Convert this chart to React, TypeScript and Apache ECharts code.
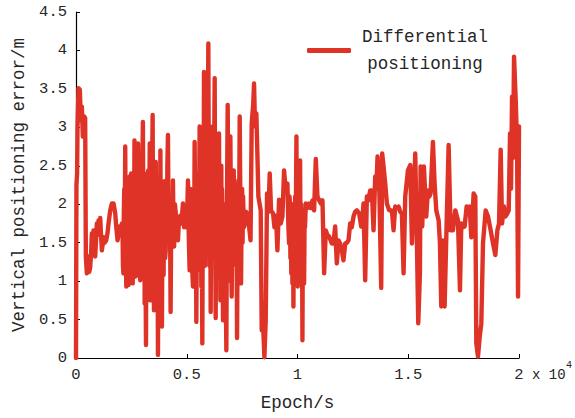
import { useEffect, useRef } from "react";
import * as echarts from "echarts";

const seriesName = "Differential positioning";
const xAxisTitle = "Epoch/s";
const yAxisTitle = "Vertical positioning error/m";
const xScaleNote = "x 10";
const xScaleExp = "4";

const epochs: number[] = [
  0, 20, 50, 68, 113, 173, 218, 264, 309, 369, 414, 445, 490, 530, 565, 600, 640, 680, 716, 760, 791, 830, 867, 942, 980, 1017, 1060, 1093, 1130, 1168, 1243, 1300, 1364, 1420, 1469, 1545, 1620, 1695, 1771, 1816, 1876, 1920, 1966, 2030, 2072,
  2100, 2120, 2140, 2160, 2180, 2200, 2222, 2245, 2270, 2290, 2310, 2330, 2350, 2373, 2395, 2420, 2435, 2450, 2470, 2490, 2510, 2530, 2545, 2560, 2580, 2600, 2620, 2640, 2660, 2680, 2700, 2720, 2740, 2760, 2780, 2800, 2820, 2840, 2860, 2880, 2900, 2925, 2950, 2970, 2995, 3020, 3045, 3070, 3085, 3100, 3120, 3140, 3160, 3180, 3200, 3220, 3240, 3260, 3280, 3300, 3315, 3330, 3352, 3375, 3400, 3420, 3440, 3460, 3480, 3500, 3520, 3540, 3560, 3580, 3600, 3625, 3650, 3675, 3700, 3720, 3740, 3760, 3785, 3810, 3830, 3855, 3880, 3900, 3920, 3940,
  3955, 3975, 4000, 4025, 4050, 4075, 4100, 4125, 4151, 4180, 4210, 4240, 4271, 4295, 4320, 4350, 4377, 4400, 4430, 4465, 4500, 4550, 4603, 4650, 4700, 4760, 4829, 4880, 4930, 4990, 5030, 5055, 5090, 5130, 5165, 5200, 5240, 5281, 5310, 5335, 5356, 5380, 5400, 5415, 5432, 5455, 5480, 5495, 5507, 5530, 5555, 5582, 5605, 5630, 5645, 5658, 5680, 5703, 5720, 5740, 5760, 5778, 5800, 5820, 5837, 5854, 5880, 5910, 5940, 5974, 5990, 6010, 6022, 6035, 6055, 6080, 6100, 6120, 6138, 6155, 6178, 6200, 6230, 6261, 6285, 6306, 6325, 6340, 6360, 6381, 6400, 6420, 6440, 6456, 6480, 6500, 6517, 6540, 6560, 6575, 6592, 6615, 6637, 6660, 6680, 6700, 6713, 6750, 6788, 6815, 6848, 6875, 6909, 6925, 6940, 6955, 6969, 6995, 7029, 7055, 7080, 7100, 7120, 7150, 7180, 7205, 7230, 7250, 7270, 7300, 7331, 7360, 7391, 7420, 7451, 7475, 7500, 7520, 7542, 7580, 7632, 7680, 7722, 7770, 7813,
  7880, 7932, 8000, 8038, 8083, 8143, 8188, 8234, 8339, 8384, 8445, 8505, 8565, 8625, 8690, 8746, 8806, 8897, 8960, 9030, 9093, 9168, 9243, 9319, 9394, 9460, 9545, 9590,
  9620, 9640, 9660, 9680, 9696, 9720, 9740, 9755, 9771, 9785, 9800, 9816, 9835, 9850, 9865, 9876, 9895, 9910, 9930, 9952, 9965, 9980, 9995, 10012, 10025, 10040, 10055, 10072, 10095, 10117, 10135, 10150, 10165, 10178, 10200, 10223, 10240, 10260, 10280, 10298, 10320, 10340, 10374,
  10450, 10524, 10600, 10675, 10750, 10826, 10901, 10980, 11052, 11127, 11202, 11278, 11350, 11428, 11549,
  11624, 11700, 11775, 11850, 11926, 12001, 12076, 12152, 12230, 12302, 12378, 12450, 12529, 12600, 12679, 12785, 12875, 12940, 12981, 13056, 13131, 13200, 13282, 13357, 13433, 13508, 13560, 13613, 13689, 13779, 13824, 13885, 13960, 14035, 14141, 14261, 14337, 14412, 14490, 14563, 14640, 14713, 14789, 14864, 14985, 15090, 15166, 15241, 15316, 15392, 15452, 15527,
  15557, 15632, 15707, 15813, 15888, 15950, 16009, 16114, 16190, 16265, 16371, 16430, 16491, 16566, 16642, 16732, 16823, 16913, 17018, 17124, 17244, 17335, 17395, 17470, 17546, 17636, 17700, 17772, 17847, 17952, 18028, 18073, 18148, 18224, 18299, 18374, 18495, 18601, 18721, 18827, 18932, 19023, 19098, 19173, 19234, 19324, 19384, 19474, 19535, 19595, 19640, 19686, 19730, 19776, 19851, 19912, 19957, 20000,
];

const errors: number[] = [
  0.0, 2.25, 2.4, 3.0, 3.51, 3.49, 3.09, 3.27, 2.88, 3.14, 3.12, 1.32, 1.1, 1.25, 1.32, 1.12, 1.18, 1.35, 1.62, 1.45, 1.66, 1.5, 1.32, 1.75, 1.6, 1.79, 1.65, 1.82, 1.6, 1.4, 1.57, 1.5, 1.53, 1.62, 1.75, 1.92, 2.01, 2.01, 1.88, 1.71, 1.53, 1.6, 1.71, 1.68, 1.75,
  1.7, 1.2, 1.1, 1.9, 2.2, 1.4, 2.75, 1.6, 0.93, 1.8, 2.3, 1.0, 1.9, 0.95, 2.1, 2.36, 1.2, 1.5, 2.2, 2.4, 1.1, 1.6, 2.1, 0.97, 1.7, 2.0, 1.3, 2.83, 1.8, 1.4, 1.06, 2.3, 1.5, 2.0, 1.2, 2.79, 2.0, 1.1, 1.49, 2.3, 1.01, 1.8, 2.2, 1.3, 2.5, 3.07, 1.6, 1.3, 2.4, 0.71, 1.9, 1.1, 0.17, 2.0, 1.4, 2.2, 1.0, 2.44, 1.6, 1.2, 2.2, 2.79, 0.75, 1.8, 2.3, 1.3, 2.6, 3.16, 1.5, 2.0, 0.62, 2.2, 1.8, 1.1, 2.55, 1.7, 1.2, 2.3, 0.04, 1.5, 2.3, 1.8, 1.0, 2.7, 1.6, 2.2, 0.41, 1.7, 2.1, 1.3,
  1.08, 2.0, 2.3, 1.3, 1.4, 2.2, 1.6, 2.5, 2.9, 1.7, 1.5, 2.1, 0.6, 1.6, 2.0, 1.5, 2.31, 1.7, 1.45, 2.0, 1.9, 1.6, 1.53, 1.8, 1.85, 1.75, 2.01, 1.7, 1.8, 1.7, 2.0, 2.31, 1.6, 1.14, 2.2, 1.9, 1.2, 0.93, 2.0, 1.5, 2.81, 1.8, 1.3, 2.0, 0.47, 1.6, 2.3, 1.4, 1.14, 2.4, 1.8, 3.01, 2.0, 1.6, 2.6, 0.93, 1.8, 0.19, 1.6, 2.5, 1.4, 3.72, 2.2, 1.2, 2.6, 1.49, 2.4, 3.3, 2.0, 4.09, 2.8, 2.4, 1.2, 1.75, 2.5, 0.6, 1.8, 2.2, 1.3, 3.01, 2.0, 1.3, 2.4, 3.64, 1.6, 0.52, 1.9, 2.6, 1.2, 2.1, 1.7, 1.1, 2.2, 2.92, 1.4, 2.1, 0.75, 1.9, 2.5, 1.3, 2.2, 1.7, 0.49, 1.8, 2.0, 1.1, 1.75, 1.3, 0.1, 2.0, 3.29, 2.1, 1.9, 2.4, 1.0, 2.0, 2.88, 1.8, 0.8, 1.7, 2.2, 1.3, 2.44, 1.8, 1.49, 2.1, 1.2, 1.9, 0.26, 1.7, 2.31, 1.6, 3.14, 2.0, 0.97, 1.8, 2.2, 1.5, 2.1, 1.7, 1.79, 1.9, 1.88, 1.75, 1.71,
  1.53, 3.05, 3.3, 3.57, 3.01, 3.18, 2.66, 2.1, 1.92, 0.36, 0.45, 0.01, 0.49, 2.14, 1.9, 2.4, 1.92, 1.88, 1.7, 1.85, 1.4, 2.06, 1.75, 1.84, 2.44, 2.2, 2.27, 1.7,
  1.49, 2.1, 2.0, 1.3, 1.84, 1.1, 1.3, 2.0, 0.97, 1.8, 1.9, 0.67, 1.9, 1.6, 1.1, 1.75, 2.1, 1.2, 2.0, 2.88, 1.8, 1.5, 1.1, 0.93, 2.1, 2.0, 1.3, 1.84, 1.1, 2.57, 1.6, 1.5, 2.0, 1.27, 1.9, 0.23, 1.5, 1.4, 1.9, 0.97, 1.8, 1.7, 2.01,
  1.95, 2.01, 1.95, 2.05, 1.92, 2.59, 2.1, 2.05, 2.01, 2.05, 1.1, 1.66, 1.6, 1.58, 1.49,
  1.49, 1.71, 1.23, 1.53, 1.49, 1.4, 1.27, 1.49, 1.5, 1.53, 1.75, 1.7, 1.84, 1.9, 1.92, 1.88, 1.71, 1.85, 2.01, 1.01, 2.1, 2.05, 2.18, 2.18, 1.66, 2.36, 2.2, 2.62, 2.27, 0.91, 2.66, 2.49, 2.27, 2.01, 1.92, 1.92, 1.66, 1.97, 1.95, 1.97, 1.9, 1.88, 1.1, 2.1, 2.44, 2.51, 1.49, 2.05, 2.66, 1.49, 0.45, 1.1,
  2.49, 1.71, 2.49, 1.84, 2.18, 2.1, 2.14, 2.81, 2.27, 1.92, 1.79, 1.5, 0.67, 1.53, 0.67, 1.75, 2.77, 1.66, 1.66, 1.92, 1.79, 0.88, 1.75, 1.7, 1.71, 1.97, 1.9, 1.97, 1.57, 2.14, 2.1, 0.19, 0.02, 0.27, 0.45, 1.49, 1.92, 1.84, 1.66, 1.49, 1.34, 1.66, 1.75, 2.71, 1.75, 1.97, 1.84, 1.88, 1.92, 2.92, 2.2, 3.4, 2.6, 3.92, 3.36, 2.79, 0.8, 3.01,
];

const FONT = "'Liberation Mono', 'DejaVu Sans Mono', monospace";
const TEXT = "#262626";
const RED = "#e03327";

export default function App() {
  const ref = useRef<HTMLDivElement>(null);
  useEffect(() => {
    if (!ref.current) return;
    const chart = echarts.init(ref.current, undefined, { renderer: "svg" });
    const data = epochs.map((e, i) => [e, errors[i]]);
    chart.setOption({
      animation: false,
      backgroundColor: "#ffffff",
      grid: { left: 76, right: 56, top: 12, bottom: 60, containLabel: false },
      xAxis: {
        type: "value",
        min: 0,
        max: 20000,
        interval: 5000,
        name: xAxisTitle,
        nameLocation: "middle",
        nameGap: 36,
        nameTextStyle: { fontFamily: FONT, fontSize: 17.5, color: TEXT },
        axisLine: { show: true, lineStyle: { color: "#000", width: 1.2 } },
        axisTick: { show: true, inside: true, length: 4, lineStyle: { color: "#000" } },
        axisLabel: {
          fontFamily: FONT,
          fontSize: 15.5,
          color: TEXT,
          margin: 9,
          formatter: (v: number) => String(v / 10000),
        },
        splitLine: { show: false },
      },
      yAxis: {
        type: "value",
        min: 0,
        max: 4.5,
        interval: 0.5,
        name: yAxisTitle,
        nameLocation: "middle",
        nameGap: 39,
        nameTextStyle: { fontFamily: FONT, fontSize: 17.5, color: TEXT },
        axisLine: { show: true, lineStyle: { color: "#000", width: 1.2 } },
        axisTick: { show: true, inside: true, length: 4, lineStyle: { color: "#000" } },
        axisLabel: { fontFamily: FONT, fontSize: 15.5, color: TEXT, margin: 9 },
        splitLine: { show: false },
      },
      legend: {
        show: true,
        left: 302,
        top: 23,
        icon: "roundRect",
        itemWidth: 44,
        itemHeight: 5,
        data: [seriesName],
        formatter: () => "{a|Differential}\n{a|positioning}",
        textStyle: {
          fontFamily: FONT,
          fontSize: 17.5,
          color: TEXT,
          padding: [0, 0, 0, 5],
          rich: {
            a: { fontFamily: FONT, fontSize: 17.5, color: TEXT, width: 128, align: "center", lineHeight: 27 },
          },
        },
      },
      graphic: [
        {
          type: "text",
          left: 532,
          top: 368,
          style: { text: xScaleNote, font: `14px ${FONT}`, fill: TEXT },
        },
        {
          type: "text",
          left: 566,
          top: 360,
          style: { text: xScaleExp, font: `10px ${FONT}`, fill: TEXT },
        },
      ],
      series: [
        {
          name: seriesName,
          type: "line",
          data,
          showSymbol: false,
          symbol: "none",
          color: RED,
          lineStyle: { color: RED, width: 4.4, join: "round", cap: "round" },
        },
      ],
    });
    return () => chart.dispose();
  }, []);
  return (
    <div
      ref={ref}
      style={{ position: "fixed", left: 0, top: 0, width: 575, height: 418, background: "#fff" }}
    />
  );
}
